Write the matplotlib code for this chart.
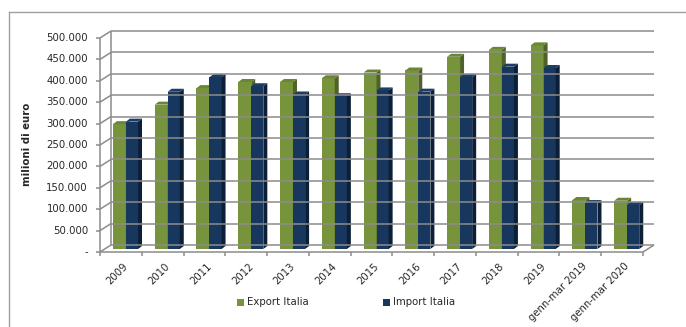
import matplotlib.pyplot as plt
from matplotlib.patches import Polygon, Rectangle
from matplotlib.lines import Line2D

# Italian trade, millions of euro
categories = ['2009', '2010', '2011', '2012', '2013', '2014', '2015', '2016',
              '2017', '2018', '2019', 'genn-mar 2019', 'genn-mar 2020']
export_italia = [291700, 337300, 375900, 390200, 390200, 398900, 412300,
                 417100, 449100, 465300, 475800, 114500, 112800]
import_italia = [297600, 367400, 401400, 380300, 361000, 356900, 370500,
                 367600, 401500, 426000, 422900, 107300, 102500]
y_ticks = list(range(0, 500001, 50000))

GREEN = ('#77933c', '#4f6228', '#6a8634')   # front, side, top
NAVY = ('#17375e', '#0c1f36', '#1d3d66')
GRID = '#8c8c8c'

W, H = 686, 327
fig = plt.figure(figsize=(W / 100, H / 100), dpi=100)

# plot area in pixels: front plane spans x 100..643, y 252 (0) .. 38 (500.000)
n = len(categories)
x0_px, x1_px = 100, 643
y0_px, ytop_px = 252, 38
px_cat = (x1_px - x0_px) / n
px_val = (y0_px - ytop_px) / 500000
xlim = (0, 13.3)
ylim = (0, 520000)
ax_l = x0_px / W
ax_w = (xlim[1] * px_cat) / W
ax_b = (H - y0_px) / H
ax_h = (ylim[1] * px_val) / H
ax = fig.add_axes([ax_l, ax_b, ax_w, ax_h])
ax.set_xlim(*xlim)
ax.set_ylim(*ylim)
ax.axis('off')

# depth of the walls and of the bars, in pixels -> data units
wdx, wdy = 11 / px_cat, 7 / px_val
bdx, bdy = 4 / px_cat, 3 / px_val
base_dx, base_dy = 2 / px_cat, 3 / px_val

lk = dict(color=GRID, lw=1.1, clip_on=False, solid_capstyle='butt')
# back wall gridlines and side wall diagonals
for t in y_ticks:
    ax.plot([wdx, n + wdx], [t + wdy, t + wdy], **lk)
    ax.plot([0, wdx], [t, t + wdy], **lk)
    ax.plot([-4 / px_cat, 0], [t, t], **lk)
    label = '-' if t == 0 else f'{t // 1000}.000'
    ax.text(-12 / px_cat, t, label, ha='right', va='center', fontsize=7.3,
            color='#262626')
ax.plot([wdx, wdx], [wdy, 500000 + wdy], **lk)
ax.plot([0, 0], [0, 500000], **lk)
# floor
ax.plot([0, n], [0, 0], **lk)
ax.plot([n, n + wdx], [0, wdy], **lk)
for i in range(n + 1):
    ax.plot([i, i], [0, -4 / px_val], **lk)


def bar3d(x, w, v, cols):
    b = base_dy
    ax.add_patch(Rectangle((x, b), w, v, fc=cols[0], ec='none', clip_on=False))
    ax.add_patch(Polygon([(x + w, b), (x + w + bdx, b + bdy),
                          (x + w + bdx, b + v + bdy), (x + w, b + v)],
                         closed=True, fc=cols[1], ec='none', clip_on=False))
    ax.add_patch(Polygon([(x, b + v), (x + bdx, b + v + bdy),
                          (x + w + bdx, b + v + bdy), (x + w, b + v)],
                         closed=True, fc=cols[2], ec='none', clip_on=False))


for i in range(n):
    bar3d(i + 0.31, 0.31, export_italia[i], GREEN)
    bar3d(i + 0.62, 0.29, import_italia[i], NAVY)
    ax.text(i + 0.55, -9 / px_val, categories[i], rotation=45, ha='right',
            va='top', rotation_mode='anchor', fontsize=7.3, color='#262626')

fig.text(27 / W, 1 - 144 / H, 'milioni di euro', rotation=90, ha='center',
         va='center', fontsize=7.3, fontweight='bold', color='#262626')

# legend
for sx, lab, col in [(237, 'Export Italia', GREEN[0]), (383, 'Import Italia', NAVY[0])]:
    fig.patches.append(Rectangle((sx / W, 1 - 306 / H), 7 / W, 7 / H,
                                 transform=fig.transFigure, fc=col, ec='none'))
    fig.text((sx + 10) / W, 1 - 302 / H, lab, ha='left', va='center',
             fontsize=7.3, color='#262626')

# outer frame (top and left edges visible)
fig.add_artist(Line2D([9 / W, 9 / W], [0, 1 - 12 / H], color='#a0a0a0', lw=1,
                      transform=fig.transFigure))
fig.add_artist(Line2D([9 / W, 1], [1 - 12 / H, 1 - 12 / H], color='#a0a0a0',
                      lw=1, transform=fig.transFigure))

fig.savefig('out.png', dpi=100)
